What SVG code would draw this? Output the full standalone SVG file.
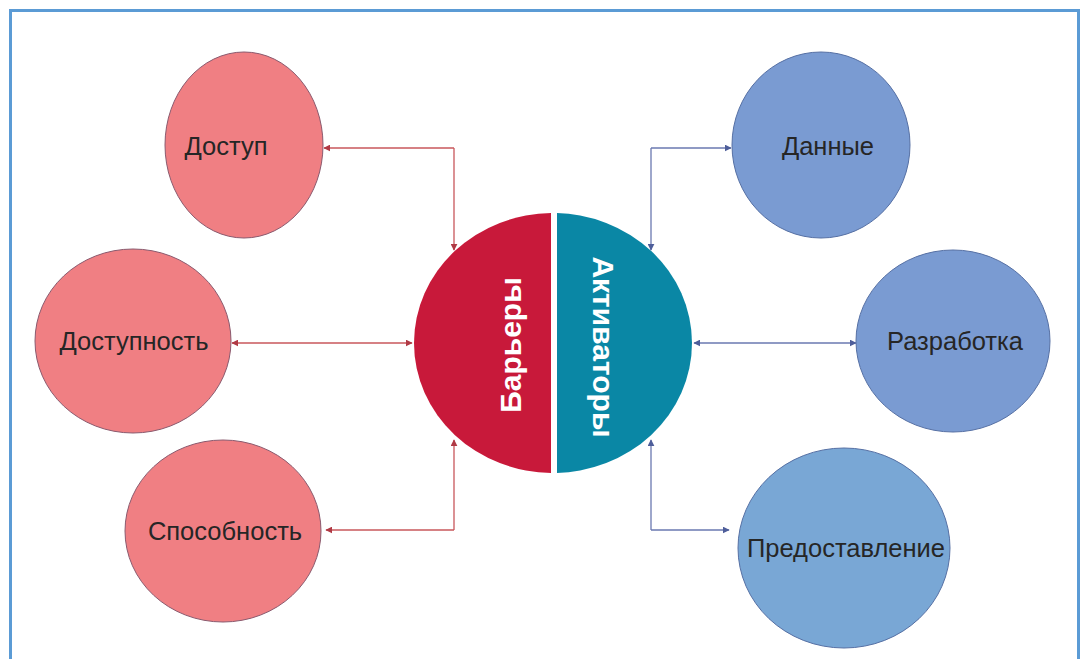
<svg xmlns="http://www.w3.org/2000/svg" width="1081" height="659" viewBox="0 0 1081 659">
<style>
.red{fill:#F07F83;stroke:#8A5A6E;stroke-width:1}
.blue{fill:#7A9BD2;stroke:#5670A4;stroke-width:1}
.lbl{font-family:"Liberation Sans",Arial,sans-serif;font-size:25.5px;fill:#262626;text-anchor:middle;dominant-baseline:central}
.big{font-family:"Liberation Sans",Arial,sans-serif;font-size:30px;font-weight:bold;fill:#fff;text-anchor:middle;dominant-baseline:central}
.cr{stroke:#C8575B;stroke-width:1.3;fill:none;marker-end:url(#ar)}
.cb{stroke:#6A78B0;stroke-width:1.3;fill:none;marker-end:url(#ab)}
</style>
<defs>
<marker id="ar" viewBox="0 0 10 10" refX="9" refY="5" markerWidth="7" markerHeight="7" orient="auto-start-reverse" markerUnits="userSpaceOnUse"><path d="M0,0L10,5L0,10z" fill="#B03A45"/></marker>
<marker id="ab" viewBox="0 0 10 10" refX="9" refY="5" markerWidth="7" markerHeight="7" orient="auto-start-reverse" markerUnits="userSpaceOnUse"><path d="M0,0L10,5L0,10z" fill="#4E5E9A"/></marker>
<clipPath id="cl"><rect x="0" y="0" width="551" height="659"/></clipPath>
<clipPath id="cr2"><rect x="557" y="0" width="300" height="659"/></clipPath>
</defs>
<rect width="1081" height="659" fill="#fff"/>
<path d="M10.5,662V10.5H1078.5V662" fill="none" stroke="#5B9BD5" stroke-width="3"/>
<g id="connectors">
<path class="cr" d="M454,148H324"/>
<path class="cr" d="M454,148V250"/>
<path class="cr" d="M232,343H412" marker-start="url(#ar)"/>
<path class="cr" d="M454,530V440"/>
<path class="cr" d="M454,530H326"/>
<path class="cb" d="M651,148H731"/>
<path class="cb" d="M651,148V250"/>
<path class="cb" d="M694,343H856" marker-start="url(#ab)"/>
<path class="cb" d="M651,530V440"/>
<path class="cb" d="M651,530H729"/>
</g>
<g id="center">
<ellipse cx="553" cy="343" rx="139" ry="130" fill="#C8193A" clip-path="url(#cl)"/>
<ellipse cx="553" cy="343" rx="139" ry="130" fill="#0A87A5" clip-path="url(#cr2)"/>
<text class="big" transform="translate(510,345) rotate(-90)">Барьеры</text>
<text class="big" transform="translate(603,347) rotate(90)">Активаторы</text>
</g>
<g id="n1"><ellipse class="red" cx="244" cy="145" rx="79" ry="93"/><text class="lbl" x="226" y="146">Доступ</text></g>
<g id="n2"><ellipse class="red" cx="133" cy="341" rx="98" ry="92"/><text class="lbl" x="134" y="341">Доступность</text></g>
<g id="n3"><ellipse class="red" cx="223" cy="531" rx="98" ry="91"/><text class="lbl" x="225" y="531">Способность</text></g>
<g id="n4"><ellipse class="blue" cx="821" cy="145" rx="89" ry="93"/><text class="lbl" x="828" y="146">Данные</text></g>
<g id="n5"><ellipse class="blue" cx="953" cy="341" rx="97" ry="91"/><text class="lbl" x="955" y="341">Разработка</text></g>
<g id="n6"><ellipse cx="844" cy="548" rx="106" ry="100" fill="#79A7D5" stroke="#5670A4" stroke-width="1"/><text class="lbl" x="846" y="548">Предоставление</text></g>
</svg>
